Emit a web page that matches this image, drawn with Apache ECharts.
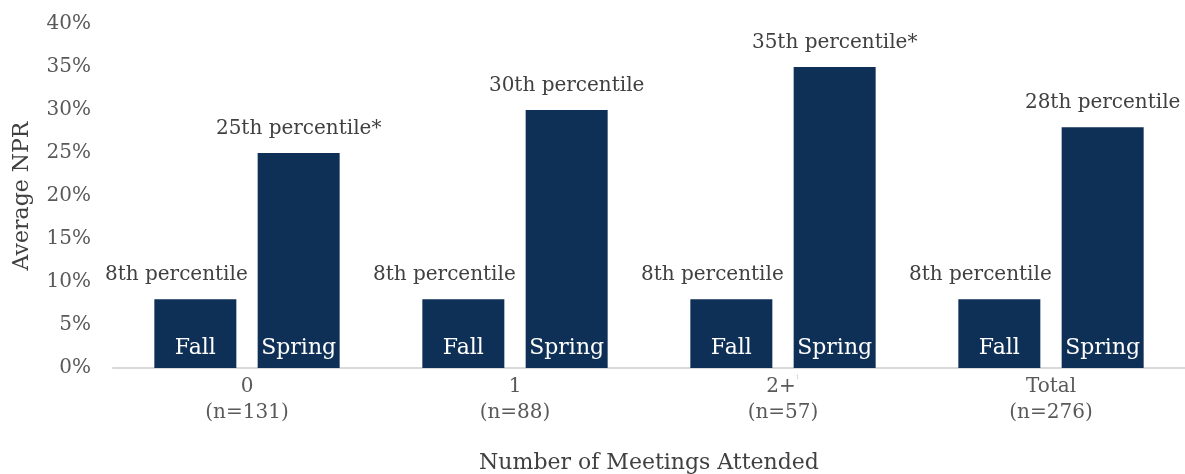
<!DOCTYPE html>
<html>
<head>
<meta charset="utf-8">
<script src="https://cdn.jsdelivr.net/npm/echarts@6/dist/echarts.min.js"></script>
<style>
  html, body { margin: 0; padding: 0; background: #fff; }
  #chart { width: 1185px; height: 474px; }
</style>
</head>
<body>
<div id="chart"></div>
<script>
// Average national percentile rank by meetings attended
const categories = ['0', '1', '2+', 'Total'];
const sampleSizes = ['n=131', 'n=88', 'n=57', 'n=276'];
const fallValues = [8, 8, 8, 8];
const springValues = [25, 30, 35, 28];
const fallLabels = ['8th percentile', '8th percentile', '8th percentile', '8th percentile'];
const springLabels = ['25th percentile*', '30th percentile', '35th percentile*', '28th percentile'];
const yTicks = [0, 5, 10, 15, 20, 25, 30, 35, 40];

const FONT = '"DejaVu Serif", "Liberation Serif", serif';
const BAR = '#0e2f56';
const TEXT = '#595959';
const NOTE = '#404040';

const BAR_W = 82;
const GAP = '26%';

// A season's bar, with its name written in white at the foot of the bar
function seasonBar(name, values, stack) {
  return {
    name: name,
    type: 'bar',
    stack: stack,
    data: values,
    barWidth: BAR_W,
    barGap: GAP,
    itemStyle: { color: BAR },
    label: {
      show: true,
      position: 'insideBottom',
      distance: 9,
      formatter: name,
      color: '#ffffff',
      fontFamily: FONT,
      fontSize: 22
    }
  };
}

// Zero-height bar stacked on a season's bar; it carries the percentile note above the bar
function noteBar(name, values, stack, texts, offsetX) {
  return {
    name: name,
    type: 'bar',
    stack: stack,
    data: values.map(function () { return 0; }),
    barWidth: BAR_W,
    barGap: GAP,
    silent: true,
    itemStyle: { color: 'rgba(0,0,0,0)' },
    label: {
      show: true,
      position: 'top',
      distance: 14,
      offset: [offsetX, 0],
      color: NOTE,
      fontFamily: FONT,
      fontSize: 20,
      formatter: function (p) { return texts[p.dataIndex]; }
    }
  };
}

const chart = echarts.init(document.getElementById('chart'), null, { renderer: 'canvas' });

chart.setOption({
  animation: false,
  textStyle: { fontFamily: FONT },
  grid: { left: 113, right: 0, top: 24, bottom: 106, containLabel: false, outerBoundsMode: 'none' },
  xAxis: {
    type: 'category',
    data: categories,
    name: 'Number of Meetings Attended',
    nameLocation: 'middle',
    nameGap: 84,
    nameTextStyle: { color: NOTE, fontFamily: FONT, fontSize: 22 },
    axisLine: { lineStyle: { color: '#d9d9d9', width: 2 } },
    axisTick: { show: false },
    axisLabel: {
      color: TEXT,
      fontFamily: FONT,
      fontSize: 20,
      lineHeight: 26,
      margin: 6,
      formatter: function (v, i) {
        const sup = v === '2+' ? '{sup|1}' : '';
        return v + sup + '\n(' + sampleSizes[i] + ')';
      },
      rich: {
        sup: { fontSize: 6, color: '#c8c8c8', verticalAlign: 'top', fontFamily: FONT, padding: [0, 0, 10, 0] }
      }
    }
  },
  yAxis: {
    type: 'value',
    min: 0,
    max: 40,
    interval: 5,
    name: 'Average NPR',
    nameLocation: 'middle',
    nameGap: 80,
    nameRotate: 90,
    nameTextStyle: { color: NOTE, fontFamily: FONT, fontSize: 22 },
    axisLine: { show: false },
    axisTick: { show: false },
    splitLine: { show: false },
    axisLabel: {
      color: TEXT,
      fontFamily: FONT,
      fontSize: 20,
      margin: 22,
      formatter: function (v) { return yTicks.indexOf(v) >= 0 ? v + '%' : ''; }
    }
  },
  series: [
    seasonBar('Fall', fallValues, 'fall'),
    noteBar('Fall note', fallValues, 'fall', fallLabels, -19),
    seasonBar('Spring', springValues, 'spring'),
    noteBar('Spring note', springValues, 'spring', springLabels, 0)
  ]
});
</script>
</body>
</html>
